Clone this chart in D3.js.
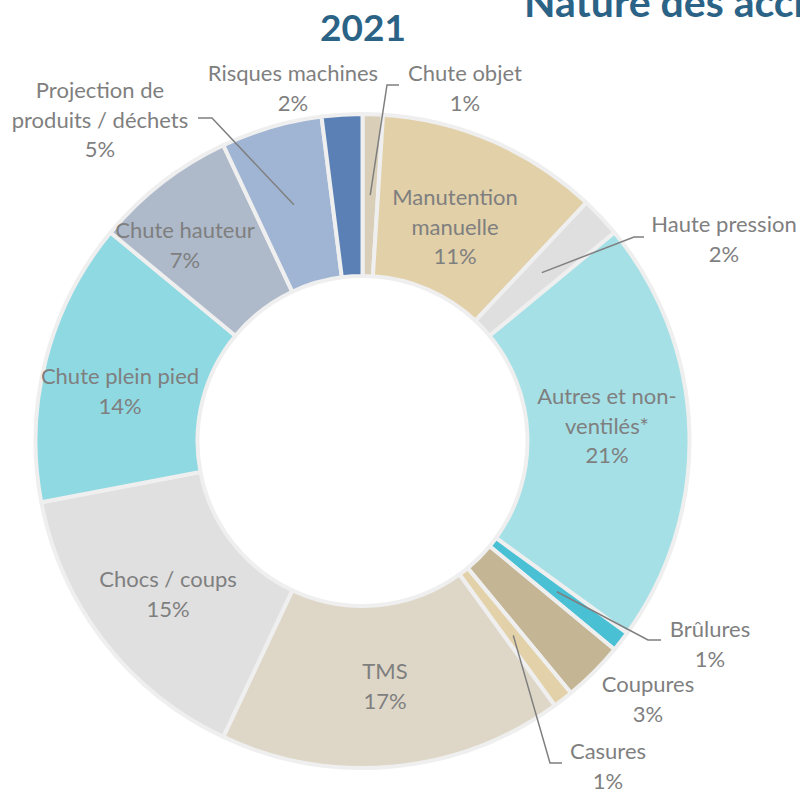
<!DOCTYPE html>
<html lang="fr">
<head>
<meta charset="utf-8">
<script src="https://cdn.jsdelivr.net/npm/d3@7"></script>
<style>
  html, body { margin: 0; padding: 0; background: #ffffff; }
  svg { display: block; }
  text { font-family: Lato, "Open Sans", sans-serif; }
</style>
</head>
<body>
<svg id="chart" width="800" height="789"></svg>
<script>
// Accident categories, clockwise from 12 o'clock
const categories = [
  "Chute objet",
  "Manutention manuelle",
  "Haute pression",
  "Autres et non-ventilés*",
  "Brûlures",
  "Coupures",
  "Casures",
  "TMS",
  "Chocs / coups",
  "Chute plein pied",
  "Chute hauteur",
  "Projection de produits / déchets",
  "Risques machines"
];

// Share of accidents (%)
const shares = [1, 11, 2, 21, 1, 3, 1, 17, 15, 14, 7, 5, 2];

// Label text lines (name split across lines)
const labelLines = [
  ["Chute objet"],
  ["Manutention", "manuelle"],
  ["Haute pression"],
  ["Autres et non-", "ventilés*"],
  ["Brûlures"],
  ["Coupures"],
  ["Casures"],
  ["TMS"],
  ["Chocs / coups"],
  ["Chute plein pied"],
  ["Chute hauteur"],
  ["Projection de", "produits / déchets"],
  ["Risques machines"]
];

const sliceColors = [
  "#d9cfb9", "#e2d0a9", "#dfdfdf", "#a5e0e6", "#49c0d4", "#c4b594", "#e3d2a9",
  "#ded7c8", "#e0e0e0", "#8fd9e2", "#aebaca", "#a0b5d3", "#5a80b6"
];

// Label block placement: x centre, y centre of first line, optional leader elbow
const labelLayout = [
  { x: 465, y: 72, leader: [[387, 85], [399, 85]] },
  { x: 455, y: 196 },
  { x: 724, y: 223, leader: [[634, 237], [644, 237]] },
  { x: 607, y: 395 },
  { x: 710, y: 628, leader: [[648, 640], [661, 640]] },
  { x: 648, y: 683 },
  { x: 608, y: 750, leader: [[550, 763], [562, 763]] },
  { x: 385, y: 670 },
  { x: 168, y: 578 },
  { x: 120, y: 375 },
  { x: 185, y: 229 },
  { x: 100, y: 89, leader: [[212, 118], [198, 118]] },
  { x: 293, y: 72 }
];

const cx = 362.5, cy = 441;
const outerR = 327, innerR = 165;
const lineH = 29.5;

const svg = d3.select("#chart");

const data = categories.map((name, i) => ({
  name, value: shares[i], color: sliceColors[i], lines: labelLines[i], layout: labelLayout[i]
}));

const pie = d3.pie().value(d => d.value).sort(null);
const arc = d3.arc().innerRadius(innerR).outerRadius(outerR);
const arcs = pie(data);

const g = svg.append("g").attr("transform", `translate(${cx},${cy})`);

// Ring slices
g.selectAll("path.slice")
  .data(arcs)
  .join("path")
  .attr("class", "slice")
  .attr("d", arc)
  .attr("fill", d => d.data.color)
  .attr("stroke", "#efefef")
  .attr("stroke-width", 4)
  .attr("stroke-linejoin", "round");

// Leader lines from slice centroid to label
const leaders = arcs.filter(d => d.data.layout.leader);
svg.selectAll("polyline.leader")
  .data(leaders)
  .join("polyline")
  .attr("class", "leader")
  .attr("points", d => {
    const c = arc.centroid(d);
    const pts = [[c[0] + cx, c[1] + cy], ...d.data.layout.leader];
    return pts.map(p => p.join(",")).join(" ");
  })
  .attr("fill", "none")
  .attr("stroke", "#7f7f7f")
  .attr("stroke-width", 1.5);

// Labels: name lines followed by percentage
const labels = svg.selectAll("text.label")
  .data(arcs)
  .join("text")
  .attr("class", "label")
  .attr("text-anchor", "middle")
  .attr("dominant-baseline", "central")
  .attr("fill", "#7f7f7f")
  .attr("font-size", 22);

labels.each(function(d) {
  const t = d3.select(this);
  const lines = [...d.data.lines, d3.format("d")(d.data.value) + "%"];
  lines.forEach((ln, k) => {
    t.append("tspan")
      .attr("x", d.data.layout.x)
      .attr("y", d.data.layout.y + k * lineH)
      .text(ln);
  });
});

// Titles
svg.append("text")
  .attr("x", 363)
  .attr("y", 41)
  .attr("text-anchor", "middle")
  .attr("font-size", 37)
  .attr("font-weight", "bold")
  .attr("fill", "#2b6387")
  .text("2021");

svg.append("text")
  .attr("x", 524)
  .attr("y", 17)
  .attr("font-size", 41)
  .attr("font-weight", "bold")
  .attr("fill", "#2b6387")
  .text("Nature des accidents");
</script>
</body>
</html>
